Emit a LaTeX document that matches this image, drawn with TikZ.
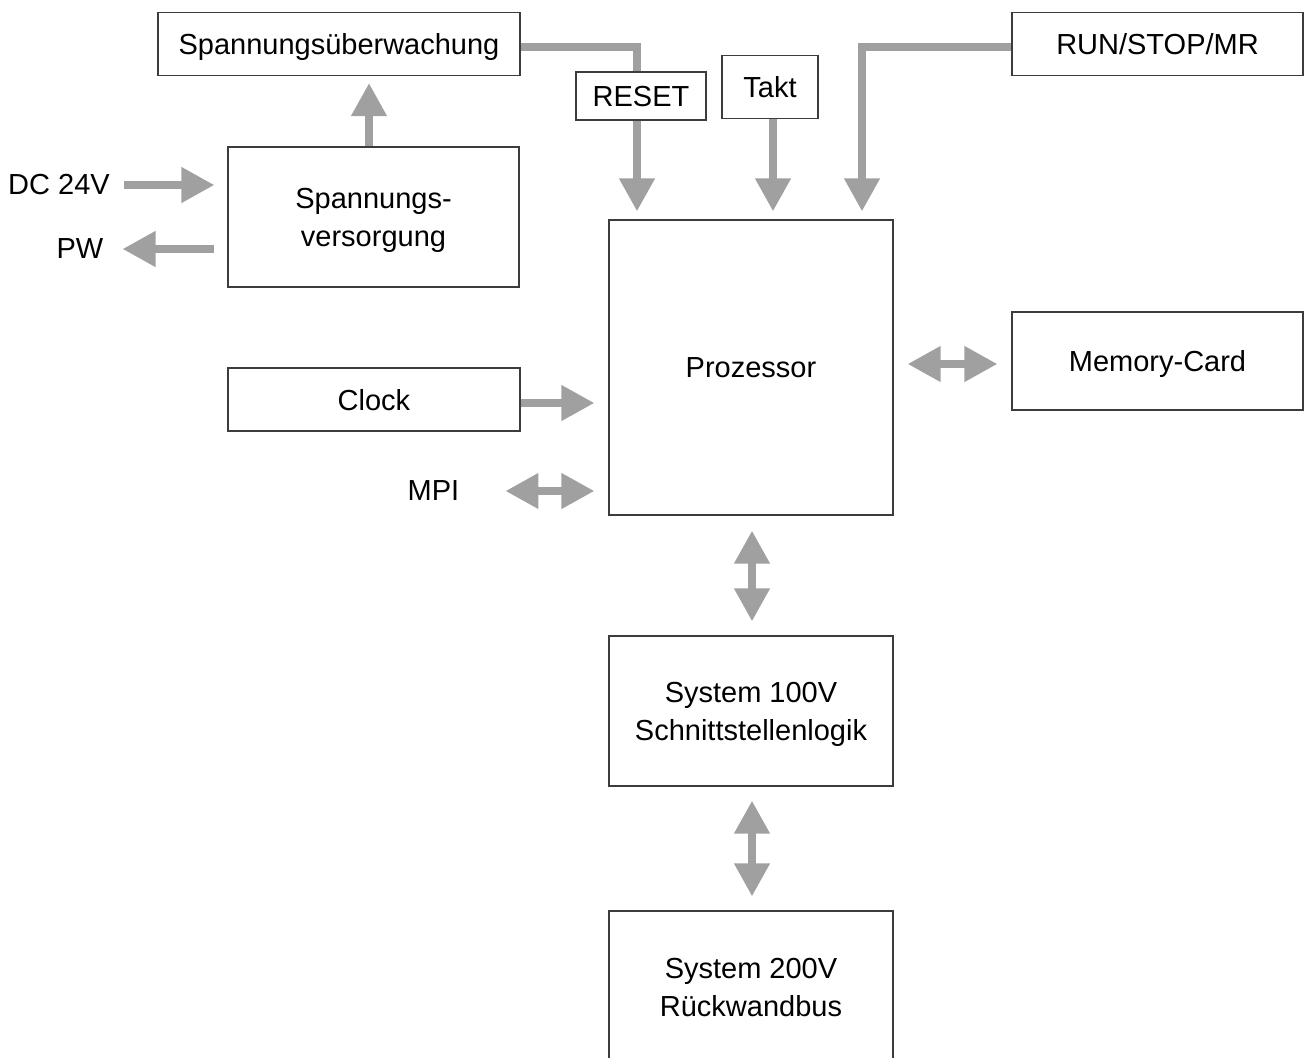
\documentclass[tikz,border=0pt]{standalone}
\usepackage{fontspec}
\setmainfont{Liberation Sans}
\usetikzlibrary{arrows.meta}
\definecolor{ag}{RGB}{160,160,160}
\definecolor{bx}{RGB}{60,60,60}
\begin{document}
\begin{tikzpicture}[x=1pt,y=-1pt,
  box/.style={draw=bx, line width=1.3pt, fill=white, inner sep=0pt, align=center, text depth=0pt, font=\fontsize{29}{38}\selectfont},
  lbl/.style={inner sep=0pt, font=\fontsize{29}{38}\selectfont},
  tip/.tip={Triangle[width=34pt,length=33pt]},
  arr/.style={draw=ag, line width=7.5pt, -tip},
  darr/.style={draw=ag, line width=7.5pt, tip-tip},
  wire/.style={draw=ag, line width=7.5pt}]
\useasboundingbox (0,0) rectangle (1305,1057);
\clip (0,0) rectangle (1305,1057);
% boxes
\node[box, minimum width=362pt, minimum height=63pt] (sue) at (339,44) {Spannungsüberwachung};
\node[box, minimum width=291pt, minimum height=63pt] (rsm) at (1157.5,44) {RUN/STOP/MR};
\node[box, minimum width=291pt, minimum height=140pt] (sv) at (373.5,217) {Spannungs-\\versorgung};
\node[box, minimum width=284pt, minimum height=295pt] (proc) at (751,367.5) {Prozessor};
\node[box, minimum width=291pt, minimum height=98pt] (mem) at (1157.5,361) {Memory-Card};
\node[box, minimum width=292pt, minimum height=63pt] (clock) at (374,399.5) {Clock};
\node[box, minimum width=284pt, minimum height=150pt] (s100) at (751,711) {System 100V\\Schnittstellenlogik};
\node[box, minimum width=284pt, minimum height=152pt] (s200) at (751,987) {System 200V\\Rückwandbus};
% labels
\node[lbl] (dc) at (59,185) {DC 24V};
\node[lbl] (pw) at (80,249) {PW};
\node[lbl] (mpi) at (433.5,491) {MPI};
% helper coordinates
\coordinate (xr) at (637,0);
\coordinate (xt) at (773,0);
\coordinate (xm) at (862,0);
\coordinate (xv) at (752,0);
\coordinate (xs) at (369,0);
% RESET wire (behind box)
\draw[wire] ([yshift=-3pt]sue.east) -| (xr |- 0,80);
\node[box, minimum width=130pt, minimum height=48pt] (reset) at (641,96) {RESET};
\node[box, minimum width=96pt, minimum height=63pt] (takt) at (770,87) {Takt};
% connectors
\draw[arr, shorten >=8pt] (reset.south -| xr) -- (proc.north -| xr);
\draw[arr, shorten >=8pt] (takt.south -| xt) -- (proc.north -| xt);
\draw[arr, shorten >=8pt] ([yshift=-3pt]rsm.west) -| (proc.north -| xm);
\draw[arr, shorten >=7pt] (sv.north -| xs) -- (sue.south -| xs);
\draw[arr, shorten <=14pt, shorten >=13pt] (dc.east) -- (sv.west |- dc.east);
\draw[arr, shorten <=13pt, shorten >=19pt] (sv.west |- pw.east) -- (pw.east);
\draw[arr, shorten >=14pt] ([yshift=-3.5pt]clock.east) -- ([yshift=-3.5pt]clock.east -| proc.west);
\draw[darr, shorten <=46pt, shorten >=14pt] (mpi.east) -- (proc.west |- mpi.east);
\draw[darr, shorten <=14pt, shorten >=14pt] ([yshift=-3pt]mem.west -| proc.east) -- ([yshift=-3pt]mem.west);
\draw[darr, shorten <=15pt, shorten >=14pt] (proc.south -| xv) -- (s100.north -| xv);
\draw[darr, shorten <=14pt, shorten >=14pt] (s100.south -| xv) -- (s200.north -| xv);
\end{tikzpicture}
\end{document}
